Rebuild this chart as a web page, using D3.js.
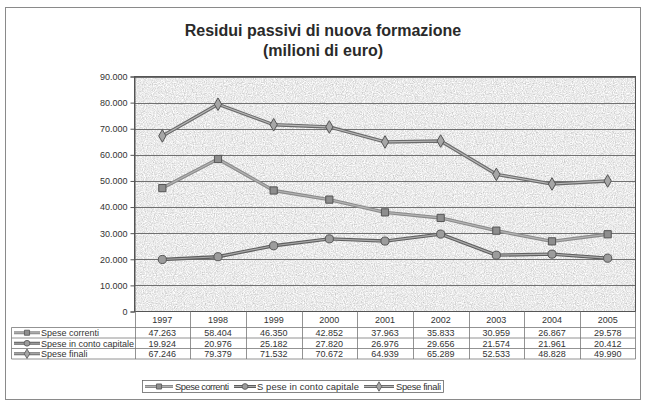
<!DOCTYPE html>
<html>
<head>
<meta charset="utf-8">
<script src="https://cdn.jsdelivr.net/npm/d3@7"></script>
<style>
  body { margin: 0; background: #fff; }
  svg { display: block; font-family: "Liberation Sans", Arial, sans-serif; }
</style>
</head>
<body>
<svg width="647" height="404"></svg>
<script>

// DATA ––––––––––––––––––––––––––––––––––––––––––––––––––––––––––––––––

var years = ["1997", "1998", "1999", "2000", "2001", "2002", "2003", "2004", "2005"];
var seriesNames = ["Spese correnti", "Spese in conto capitale", "Spese finali"];
var legendNames = ["Spese correnti", "S pese in conto capitale", "Spese finali"];
var speseCorrenti = [47263, 58404, 46350, 42852, 37963, 35833, 30959, 26867, 29578];
var speseContoCapitale = [19924, 20976, 25182, 27820, 26976, 29656, 21574, 21961, 20412];
var speseFinali = [67246, 79379, 71532, 70672, 64939, 65289, 52533, 48828, 49990];
var yTicks = [0, 10000, 20000, 30000, 40000, 50000, 60000, 70000, 80000, 90000];
var titleLines = ["Residui passivi di nuova formazione", "(milioni di euro)"];


// DRAW ––––––––––––––––––––––––––––––––––––––––––––––––––––––––––––––––

var draw = function() {
  var svg = d3.select("svg");
  var it = d3.formatLocale({decimal: ",", thousands: ".", grouping: [3], currency: ["€", ""]});
  var fmt = it.format(",d");

  var series = [speseCorrenti, speseContoCapitale, speseFinali];
  var markers = ["square", "circle", "diamond"];
  var markerFill = ["#8e8e8e", "#9c9c9c", "#a6a6a6"];
  var lineOuter = ["#8a8a8a", "#5e5e5e", "#6a6a6a"];
  var lineInner = ["#b4b4b4", "#aaaaaa", "#b8b8b8"];

  var plot = {left: 134.5, right: 635.5, top: 76.5, bottom: 311.5};

  var x = d3.scaleBand().domain(years).range([plot.left, plot.right]);
  var y = d3.scaleLinear().domain([0, 90000]).range([plot.bottom, plot.top]);

  // noise texture for plot background
  var defs = svg.append("defs");
  var f = defs.append("filter").attr("id", "noise")
    .attr("x", 0).attr("y", 0).attr("width", "100%").attr("height", "100%");
  f.append("feTurbulence").attr("type", "fractalNoise")
    .attr("baseFrequency", 0.9).attr("numOctaves", 2).attr("seed", 4);
  f.append("feColorMatrix").attr("type", "matrix")
    .attr("values", "0.7 0 0 0 0.47  0.7 0 0 0 0.47  0.7 0 0 0 0.47  0 0 0 0 1");

  // outer frame
  svg.append("rect")
    .attr("x", 5.5).attr("y", 7.5).attr("width", 635).attr("height", 392)
    .attr("fill", "none").attr("stroke", "#8a8a8a").attr("stroke-width", 1);

  // title
  svg.append("g").selectAll("text").data(titleLines).enter().append("text")
    .attr("x", 323).attr("y", function(d, i) { return 36 + i * 20; })
    .attr("text-anchor", "middle")
    .attr("font-size", 16).attr("font-weight", "bold").attr("fill", "#2a2a2a")
    .text(function(d) { return d; });

  // plot area
  svg.append("rect")
    .attr("x", plot.left).attr("y", plot.top)
    .attr("width", plot.right - plot.left).attr("height", plot.bottom - plot.top)
    .attr("filter", "url(#noise)");

  svg.append("g").selectAll("line").data(yTicks.slice(1)).enter().append("line")
    .attr("x1", plot.left).attr("x2", plot.right)
    .attr("y1", function(d) { return Math.round(y(d)) + 0.5; })
    .attr("y2", function(d) { return Math.round(y(d)) + 0.5; })
    .attr("stroke", "#707070").attr("stroke-width", 1);

  svg.append("rect")
    .attr("x", plot.left).attr("y", plot.top)
    .attr("width", plot.right - plot.left).attr("height", plot.bottom - plot.top)
    .attr("fill", "none").attr("stroke", "#555").attr("stroke-width", 1);

  // y axis
  var yAxis = svg.append("g")
    .attr("transform", "translate(" + plot.left + ",0)")
    .call(d3.axisLeft(y).tickValues(yTicks).tickSize(4).tickPadding(3).tickFormat(fmt));
  yAxis.select(".domain").attr("stroke", "#555");
  yAxis.selectAll(".tick line").attr("stroke", "#555");
  yAxis.selectAll("text").attr("font-size", 9).attr("fill", "#333")
    .attr("font-family", "Liberation Sans, Arial, sans-serif");

  // marker drawing
  var symbolFor = function(m) {
    if (m === "square") return d3.symbol().type(d3.symbolSquare).size(52)();
    if (m === "circle") return d3.symbol().type(d3.symbolCircle).size(52)();
    return d3.symbol().type(d3.symbolDiamond).size(46)();
  };

  // lines
  var line = d3.line()
    .x(function(d, i) { return x(years[i]) + x.bandwidth() / 2; })
    .y(function(d) { return y(d); });

  series.forEach(function(s, k) {
    var g = svg.append("g");
    g.append("path").datum(s).attr("d", line)
      .attr("fill", "none").attr("stroke", lineOuter[k]).attr("stroke-width", 3.4)
      .attr("stroke-linejoin", "round");
    g.append("path").datum(s).attr("d", line)
      .attr("fill", "none").attr("stroke", lineInner[k]).attr("stroke-width", 1.2)
      .attr("stroke-linejoin", "round");
    g.selectAll(".m").data(s).enter().append("path")
      .attr("transform", function(d, i) {
        return "translate(" + (x(years[i]) + x.bandwidth() / 2) + "," + y(d) + ")";
      })
      .attr("d", symbolFor(markers[k]))
      .attr("fill", markerFill[k]).attr("stroke", "#555").attr("stroke-width", 1);
  });

  // data table
  var tableLeft = 11.5;
  var rowTop = 327.5, rowH = 10.5;
  var t = svg.append("g");

  // category row
  t.selectAll(".yr").data(years).enter().append("text")
    .attr("x", function(d) { return x(d) + x.bandwidth() / 2; })
    .attr("y", 322.5).attr("text-anchor", "middle")
    .attr("font-size", 9).attr("fill", "#333")
    .text(function(d) { return d; });

  // vertical separators
  t.selectAll(".vl").data(years.concat(["end"])).enter().append("line")
    .attr("x1", function(d) { return d === "end" ? plot.right : Math.round(x(d)) + 0.5; })
    .attr("x2", function(d) { return d === "end" ? plot.right : Math.round(x(d)) + 0.5; })
    .attr("y1", plot.bottom).attr("y2", rowTop + 3 * rowH)
    .attr("stroke", "#777").attr("stroke-width", 0.8);
  t.append("line")
    .attr("x1", tableLeft).attr("x2", tableLeft)
    .attr("y1", rowTop).attr("y2", rowTop + 3 * rowH)
    .attr("stroke", "#777").attr("stroke-width", 0.8);

  // horizontal separators
  t.selectAll(".hl").data([0, 1, 2, 3]).enter().append("line")
    .attr("x1", tableLeft).attr("x2", plot.right)
    .attr("y1", function(d) { return rowTop + d * rowH; })
    .attr("y2", function(d) { return rowTop + d * rowH; })
    .attr("stroke", "#777").attr("stroke-width", 0.8);

  var legendKey = function(sel, k, x0, x1, cy) {
    sel.append("line").attr("x1", x0).attr("x2", x1).attr("y1", cy).attr("y2", cy)
      .attr("stroke", lineOuter[k]).attr("stroke-width", 3);
    sel.append("line").attr("x1", x0).attr("x2", x1).attr("y1", cy).attr("y2", cy)
      .attr("stroke", lineInner[k]).attr("stroke-width", 1);
    sel.append("path")
      .attr("transform", "translate(" + ((x0 + x1) / 2) + "," + cy + ")")
      .attr("d", d3.symbol().type(markers[k] === "square" ? d3.symbolSquare :
        markers[k] === "circle" ? d3.symbolCircle : d3.symbolDiamond).size(26)())
      .attr("fill", markerFill[k]).attr("stroke", "#555").attr("stroke-width", 0.8);
  };

  series.forEach(function(s, k) {
    var cy = rowTop + k * rowH + rowH / 2;
    legendKey(t, k, 14, 40, cy);
    t.append("text").attr("x", 41).attr("y", cy + 3.3)
      .attr("font-size", 9).attr("fill", "#333").text(seriesNames[k]);
    t.selectAll(".v" + k).data(s).enter().append("text")
      .attr("x", function(d, i) { return x(years[i]) + x.bandwidth() / 2; })
      .attr("y", cy + 3.3).attr("text-anchor", "middle")
      .attr("font-size", 9).attr("fill", "#333")
      .text(function(d) { return fmt(d); });
  });

  // legend
  var lg = svg.append("g");
  lg.append("rect").attr("x", 142.5).attr("y", 380.5).attr("width", 301).attr("height", 12)
    .attr("fill", "#fff").attr("stroke", "#666").attr("stroke-width", 0.8);
  var lx = [[145, 173, 175, 54], [234, 256, 257, 102], [364, 394, 396, 45]];
  legendNames.forEach(function(n, k) {
    legendKey(lg, k, lx[k][0], lx[k][1], 386.5);
    lg.append("text").attr("x", lx[k][2]).attr("y", 389.8)
      .attr("font-size", 9.4).attr("fill", "#333")
      .attr("textLength", lx[k][3]).attr("lengthAdjust", "spacing")
      .text(n);
  });
};

draw();
</script>
</body>
</html>
